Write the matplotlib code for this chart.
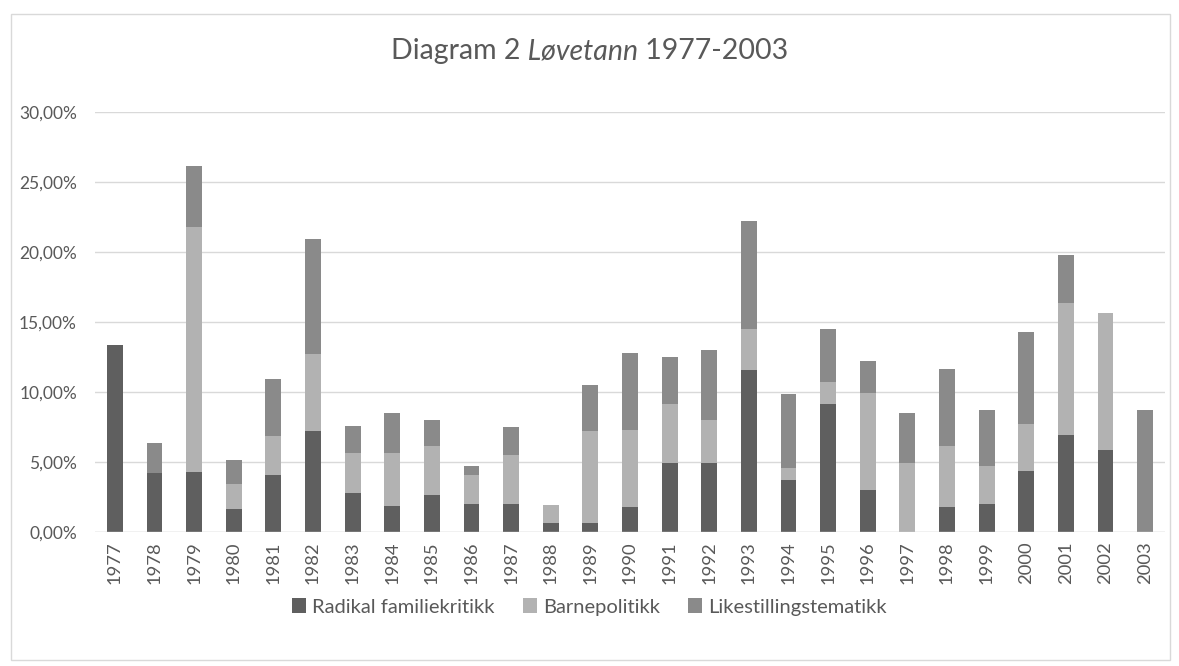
import matplotlib
matplotlib.use("Agg")
import matplotlib.pyplot as plt
from matplotlib.patches import Rectangle
from matplotlib.ticker import FuncFormatter

plt.rcParams['font.family'] = ['Lato', 'DejaVu Sans']

# data (percent)
years = [str(y) for y in range(1977, 2004)]
radikal = [13.33, 4.23, 4.31, 1.67, 4.09, 7.25, 2.80, 1.84, 2.63, 2.01, 2.01, 0.65, 0.65,
           1.77, 4.95, 4.95, 11.56, 3.73, 9.14, 2.99, 0.0, 1.77, 1.99, 4.38, 6.94, 5.89, 0.0]
barne = [0.0, 0.0, 17.48, 1.75, 2.78, 5.50, 2.85, 3.81, 3.54, 2.06, 3.47, 1.29, 6.57,
         5.53, 4.21, 3.06, 2.91, 0.84, 1.58, 6.94, 4.95, 4.38, 2.72, 3.32, 9.40, 9.78, 0.0]
likestilling = [0.0, 2.13, 4.38, 1.72, 4.09, 8.18, 1.91, 2.84, 1.80, 0.67, 2.03, 0.0, 3.31,
                5.45, 3.35, 5.00, 7.71, 5.26, 3.80, 2.27, 3.54, 5.50, 4.02, 6.58, 3.47, 0.0, 8.71]
series_names = ["Radikal familiekritikk", "Barnepolitikk", "Likestillingstematikk"]
colors = ["#5f5f5f", "#b2b2b2", "#8a8a8a"]

txt = "#595959"
grid = "#d9d9d9"

fig = plt.figure(figsize=(11.79, 6.66), dpi=100)
ax = fig.add_axes([95 / 1179, 134 / 666, 1070 / 1179, 420 / 666])

# outer chart border
fig.patches.append(Rectangle((11 / 1179, 6 / 666), 1159 / 1179, 646 / 666,
                             transform=fig.transFigure, fill=False,
                             edgecolor=grid, linewidth=1))

x = range(len(years))
bottom2 = [a + b for a, b in zip(radikal, barne)]
ax.bar(x, radikal, width=0.4, color=colors[0], label=series_names[0], zorder=3)
ax.bar(x, barne, width=0.4, bottom=radikal, color=colors[1], label=series_names[1], zorder=3)
ax.bar(x, likestilling, width=0.4, bottom=bottom2, color=colors[2], label=series_names[2], zorder=3)

ax.set_xlim(-0.5, len(years) - 0.5)
ax.set_ylim(0, 30)
ax.set_yticks([0, 5, 10, 15, 20, 25, 30])
ax.yaxis.set_major_formatter(FuncFormatter(lambda v, p: f"{v:.2f}%".replace(".", ",")))
ax.set_xticks(list(x))
ax.set_xticklabels(years, rotation=90)
ax.grid(axis='y', color=grid, linewidth=1, zorder=0)
for s in ax.spines.values():
    s.set_visible(False)
ax.axhline(0, color=grid, linewidth=1, zorder=4)
ax.tick_params(length=0, colors=txt)
ax.tick_params(axis='y', pad=13, labelsize=12.5)
ax.tick_params(axis='x', pad=7, labelsize=13.2)

fig.legend(loc='center', bbox_to_anchor=(0.5, 59 / 666), ncol=3, frameon=False,
           handlelength=0.7, handleheight=0.7, handletextpad=0.3, columnspacing=1.4,
           fontsize=14.5, labelcolor=txt)

# title with italic part, centred as a whole
t1 = fig.text(0, 607 / 666, "Diagram 2", fontsize=20.5, color=txt, va='baseline')
t2 = ax.annotate(" Løvetann", xy=(1, 0), xycoords=t1, fontsize=20.5, color=txt,
                 style='italic', va='bottom', annotation_clip=False)
t3 = ax.annotate(" 1977-2003", xy=(1, 0), xycoords=t2, fontsize=20.5, color=txt,
                 va='bottom', annotation_clip=False)
fig.canvas.draw()
r = fig.canvas.get_renderer()
w = sum(t.get_window_extent(r).width for t in (t1, t2, t3))
t1.set_x((fig.bbox.width - w) / 2 / fig.bbox.width)

fig.savefig("out.png", dpi=100)
